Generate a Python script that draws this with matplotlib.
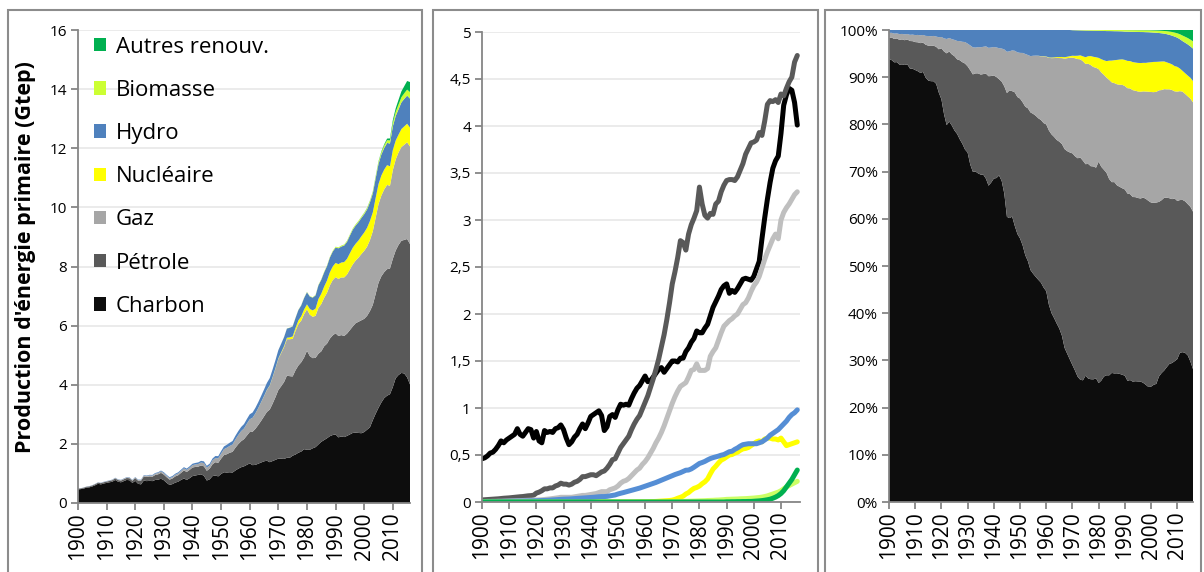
import matplotlib
matplotlib.use("Agg")
import matplotlib.pyplot as plt
from matplotlib.patches import Rectangle
import numpy as np

plt.rcParams['font.family'] = ['Open Sans', 'DejaVu Sans']

years = list(range(1900, 2017))

charbon = [
    0.46, 0.47, 0.49, 0.52, 0.53, 0.56, 0.60, 0.65, 0.63, 0.66,
    0.68, 0.70, 0.72, 0.78, 0.72, 0.70, 0.74, 0.78, 0.77, 0.68,
    0.75, 0.65, 0.63, 0.76, 0.74, 0.75, 0.74, 0.78, 0.79, 0.82,
    0.77, 0.68, 0.61, 0.64, 0.69, 0.72, 0.78, 0.83, 0.78, 0.84,
    0.91, 0.93, 0.95, 0.97, 0.92, 0.76, 0.80, 0.91, 0.93, 0.90,
    0.98, 1.04, 1.03, 1.04, 1.03, 1.10, 1.16, 1.21, 1.24, 1.29,
    1.34, 1.28, 1.29, 1.33, 1.37, 1.41, 1.43, 1.38, 1.42, 1.46,
    1.50, 1.50, 1.49, 1.53, 1.53, 1.60, 1.64, 1.70, 1.74, 1.82,
    1.80, 1.80, 1.85, 1.89, 1.98, 2.07, 2.13, 2.19, 2.26, 2.30,
    2.32, 2.22, 2.25, 2.23, 2.27, 2.32, 2.37, 2.38, 2.37, 2.36,
    2.40, 2.48, 2.56, 2.80, 3.02, 3.22, 3.40, 3.55, 3.63, 3.68,
    3.92, 4.22, 4.33, 4.40, 4.38, 4.25, 4.01]

petrole = [
    0.022, 0.024, 0.026, 0.028, 0.030, 0.032, 0.034, 0.037, 0.040, 0.042,
    0.044, 0.047, 0.050, 0.053, 0.056, 0.058, 0.062, 0.066, 0.068, 0.072,
    0.095, 0.105, 0.12, 0.14, 0.14, 0.15, 0.15, 0.17, 0.18, 0.20,
    0.19, 0.19, 0.18, 0.19, 0.21, 0.22, 0.24, 0.27, 0.27, 0.28,
    0.29, 0.29, 0.28, 0.30, 0.32, 0.33, 0.36, 0.40, 0.45, 0.46,
    0.52, 0.58, 0.62, 0.66, 0.70, 0.77, 0.83, 0.88, 0.92, 0.99,
    1.06, 1.13, 1.22, 1.31, 1.41, 1.52, 1.65, 1.78, 1.94, 2.12,
    2.32, 2.45, 2.60, 2.78, 2.76, 2.68, 2.85, 2.95, 3.02, 3.10,
    3.35, 3.17, 3.05, 3.02, 3.07, 3.06, 3.17, 3.20, 3.30, 3.37,
    3.42, 3.43, 3.43, 3.42, 3.46, 3.53, 3.60, 3.70, 3.76, 3.82,
    3.83, 3.85, 3.93, 3.90, 4.05, 4.23, 4.27, 4.26, 4.28, 4.25,
    4.34, 4.32, 4.40, 4.47, 4.52, 4.68, 4.75]

gaz = [
    0.005, 0.005, 0.006, 0.006, 0.007, 0.007, 0.008, 0.008, 0.009, 0.010,
    0.011, 0.012, 0.013, 0.014, 0.015, 0.016, 0.017, 0.018, 0.019, 0.020,
    0.021, 0.022, 0.024, 0.027, 0.030, 0.033, 0.037, 0.041, 0.045, 0.050,
    0.050, 0.050, 0.050, 0.050, 0.055, 0.060, 0.065, 0.070, 0.070, 0.075,
    0.080, 0.085, 0.090, 0.100, 0.110, 0.110, 0.110, 0.130, 0.140, 0.150,
    0.17, 0.20, 0.22, 0.23, 0.25, 0.28, 0.31, 0.34, 0.36, 0.40,
    0.43, 0.47, 0.52, 0.57, 0.63, 0.68, 0.74, 0.81, 0.89, 0.97,
    1.05, 1.12, 1.18, 1.23, 1.25, 1.27, 1.33, 1.40, 1.41, 1.47,
    1.40, 1.40, 1.40, 1.42, 1.55, 1.60, 1.64, 1.72, 1.80, 1.87,
    1.90, 1.93, 1.95, 1.98, 2.00, 2.05, 2.10, 2.12, 2.17, 2.24,
    2.30, 2.34, 2.40, 2.49, 2.58, 2.66, 2.73, 2.80, 2.85, 2.80,
    3.00, 3.08, 3.13, 3.17, 3.22, 3.27, 3.30]

nucleaire = [
    0, 0, 0, 0, 0, 0, 0, 0, 0, 0,
    0, 0, 0, 0, 0, 0, 0, 0, 0, 0,
    0, 0, 0, 0, 0, 0, 0, 0, 0, 0,
    0, 0, 0, 0, 0, 0, 0, 0, 0, 0,
    0, 0, 0, 0, 0, 0, 0, 0, 0, 0,
    0, 0, 0, 0, 0, 0, 0, 0.001, 0.001, 0.002,
    0.002, 0.003, 0.004, 0.005, 0.006, 0.008, 0.010, 0.012, 0.014, 0.016,
    0.020, 0.028, 0.040, 0.050, 0.062, 0.085, 0.100, 0.125, 0.145, 0.155,
    0.170, 0.195, 0.215, 0.245, 0.300, 0.350, 0.380, 0.415, 0.445, 0.460,
    0.480, 0.500, 0.505, 0.520, 0.530, 0.550, 0.565, 0.570, 0.580, 0.600,
    0.620, 0.640, 0.650, 0.640, 0.670, 0.680, 0.680, 0.670, 0.670, 0.660,
    0.680, 0.640, 0.600, 0.610, 0.620, 0.630, 0.640]

hydro = [
    0.003, 0.003, 0.004, 0.004, 0.005, 0.005, 0.006, 0.006, 0.007, 0.007,
    0.008, 0.008, 0.009, 0.009, 0.010, 0.010, 0.011, 0.011, 0.012, 0.012,
    0.013, 0.014, 0.015, 0.016, 0.018, 0.020, 0.022, 0.024, 0.026, 0.028,
    0.030, 0.031, 0.032, 0.034, 0.036, 0.038, 0.040, 0.042, 0.044, 0.046,
    0.048, 0.050, 0.053, 0.056, 0.058, 0.058, 0.060, 0.065, 0.070, 0.075,
    0.085, 0.093, 0.100, 0.108, 0.116, 0.124, 0.132, 0.140, 0.148, 0.158,
    0.168, 0.178, 0.188, 0.198, 0.208, 0.220, 0.232, 0.244, 0.256, 0.268,
    0.280, 0.292, 0.302, 0.312, 0.325, 0.338, 0.340, 0.352, 0.370, 0.390,
    0.410, 0.420, 0.432, 0.448, 0.462, 0.472, 0.480, 0.488, 0.498, 0.505,
    0.520, 0.535, 0.540, 0.560, 0.575, 0.595, 0.610, 0.615, 0.620, 0.620,
    0.620, 0.620, 0.630, 0.640, 0.660, 0.680, 0.710, 0.730, 0.750, 0.770,
    0.800, 0.830, 0.860, 0.900, 0.930, 0.950, 0.980]

biomasse = [
    0, 0, 0, 0, 0, 0, 0, 0, 0, 0,
    0, 0, 0, 0, 0, 0, 0, 0, 0, 0,
    0, 0, 0, 0, 0, 0, 0, 0, 0, 0,
    0, 0, 0, 0, 0, 0, 0, 0, 0, 0,
    0, 0, 0, 0, 0, 0, 0, 0, 0, 0,
    0, 0, 0, 0, 0, 0, 0, 0, 0, 0,
    0, 0, 0, 0, 0, 0, 0, 0, 0, 0,
    0.002, 0.003, 0.004, 0.005, 0.006, 0.007, 0.008, 0.009, 0.010, 0.011,
    0.012, 0.013, 0.014, 0.016, 0.017, 0.018, 0.020, 0.021, 0.023, 0.025,
    0.028, 0.029, 0.030, 0.031, 0.032, 0.034, 0.035, 0.036, 0.038, 0.040,
    0.042, 0.045, 0.048, 0.052, 0.058, 0.065, 0.075, 0.085, 0.095, 0.105,
    0.120, 0.140, 0.160, 0.175, 0.190, 0.205, 0.220]

autres = [
    0, 0, 0, 0, 0, 0, 0, 0, 0, 0,
    0, 0, 0, 0, 0, 0, 0, 0, 0, 0,
    0, 0, 0, 0, 0, 0, 0, 0, 0, 0,
    0, 0, 0, 0, 0, 0, 0, 0, 0, 0,
    0, 0, 0, 0, 0, 0, 0, 0, 0, 0,
    0, 0, 0, 0, 0, 0, 0, 0, 0, 0,
    0, 0, 0, 0, 0, 0, 0, 0, 0, 0,
    0, 0, 0, 0, 0, 0, 0, 0, 0, 0,
    0, 0, 0, 0, 0, 0, 0, 0, 0, 0,
    0.002, 0.002, 0.003, 0.003, 0.004, 0.004, 0.005, 0.005, 0.006, 0.006,
    0.008, 0.010, 0.012, 0.015, 0.019, 0.024, 0.030, 0.040, 0.052, 0.068,
    0.090, 0.120, 0.160, 0.200, 0.240, 0.290, 0.340]

labels = ["Charbon", "Pétrole", "Gaz", "Nucléaire", "Hydro", "Biomasse", "Autres renouv."]
area_colors = ["#0d0d0d", "#595959", "#a6a6a6", "#ffff00", "#4f81bd", "#ccff33", "#00b050"]
line_colors = ["#000000", "#595959", "#bfbfbf", "#ffff00", "#558ed5", "#ccff66", "#00b050"]

y1_ticks = [0, 2, 4, 6, 8, 10, 12, 14, 16]
y2_ticks = [0, 0.5, 1, 1.5, 2, 2.5, 3, 3.5, 4, 4.5, 5]
y2_labels = ["0", "0,5", "1", "1,5", "2", "2,5", "3", "3,5", "4", "4,5", "5"]
y3_ticks = [0, 10, 20, 30, 40, 50, 60, 70, 80, 90, 100]
x_ticks = [1900, 1910, 1920, 1930, 1940, 1950, 1960, 1970, 1980, 1990, 2000, 2010]

series = [charbon, petrole, gaz, nucleaire, hydro, biomasse, autres]
yrs = np.array(years)
data = np.array(series, dtype=float)
total = data.sum(axis=0)
pct = data / total * 100

W, H = 1204, 572
fig = plt.figure(figsize=(W / 100, H / 100), dpi=100)

def fx(px):
    return px / W

def fy(py):
    return 1 - py / H

# panel frames
for (l, r) in [(8, 422), (433, 818), (825, 1201)]:
    fig.patches.append(Rectangle((fx(l), fy(600)), fx(r - l), fy(10) - fy(600),
                                 transform=fig.transFigure, fill=False,
                                 edgecolor="#8c8c8c", linewidth=1.5, zorder=0))

ax1 = fig.add_axes([fx(78), fy(503), fx(410 - 78), fy(30) - fy(503)])
ax2 = fig.add_axes([fx(482), fy(502), fx(800 - 482), fy(32) - fy(502)])
ax3 = fig.add_axes([fx(889), fy(502), fx(1193 - 889), fy(30) - fy(502)])

spine_c = "#868686"
for ax in (ax1, ax2, ax3):
    for s in ("top", "right"):
        ax.spines[s].set_visible(False)
    for s in ("left", "bottom"):
        ax.spines[s].set_color(spine_c)
        ax.spines[s].set_linewidth(1.3)
    ax.tick_params(axis="both", direction="out", color=spine_c, width=1.3, length=5)
    ax.tick_params(axis="y", labelsize=11, pad=3)
    ax.tick_params(axis="x", labelsize=15, rotation=90, pad=2)
    ax.set_xticks(x_ticks)
    ax.set_xticklabels([str(t) for t in x_ticks])

# Panel 1: stacked areas
ax1.stackplot(yrs, data, colors=area_colors, labels=labels, linewidth=0)
ax1.set_xlim(1900, 2016)
ax1.set_ylim(0, 16)
ax1.set_yticks(y1_ticks)
ax1.yaxis.grid(True, color="#e8e8e8", linewidth=1.2)
ax1.set_axisbelow(True)
ax1.set_ylabel("Production d'énergie primaire (Gtep)", fontsize=15.5,
               fontweight="bold")
ax1.yaxis.set_label_coords(-0.128, 0.52)
h, l = ax1.get_legend_handles_labels()
ax1.legend(h[::-1], l[::-1], loc="upper left", bbox_to_anchor=(0.02, 1.005),
           frameon=False, fontsize=16, handlelength=0.55, handleheight=0.55,
           handletextpad=0.45, labelspacing=1.0, borderaxespad=0)

# Panel 2: lines
order = [1, 2, 0, 3, 4, 5, 6]
for i in order:
    ax2.plot(yrs, data[i], color=line_colors[i], linewidth=3.6,
             solid_capstyle="round", solid_joinstyle="round", zorder=3 + i)
ax2.set_xlim(1900, 2017)
ax2.set_ylim(0, 5)
ax2.set_yticks(y2_ticks)
ax2.set_yticklabels(y2_labels)
ax2.yaxis.grid(True, color="#e8e8e8", linewidth=1.2)
ax2.set_axisbelow(True)
for sp in ax2.spines.values():
    sp.set_zorder(20)

# Panel 3: percentage stacked areas
ax3.stackplot(yrs, pct, colors=area_colors, linewidth=0)
ax3.set_xlim(1900, 2016)
ax3.set_ylim(0, 100)
ax3.set_yticks(y3_ticks)
ax3.set_yticklabels([f"{t}%" for t in y3_ticks])

fig.savefig("out.png", dpi=100)
